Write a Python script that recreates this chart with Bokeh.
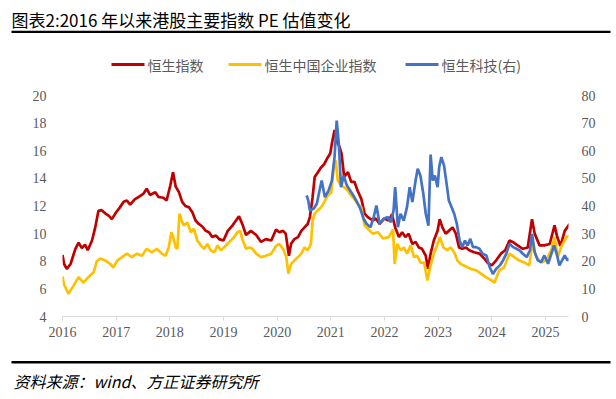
from bokeh.plotting import figure
from bokeh.models import Range1d, LinearAxis, FixedTicker, Label
from bokeh.layouts import column
from bokeh.embed import file_html
from bokeh.resources import INLINE

# ---------------- data ----------------
hsi_years = [2016.00, 2016.03, 2016.08, 2016.15, 2016.24, 2016.30, 2016.36, 2016.42, 2016.47, 2016.55,
             2016.61, 2016.67, 2016.73, 2016.80, 2016.86, 2016.92, 2017.00, 2017.07, 2017.14, 2017.20,
             2017.26, 2017.35, 2017.42, 2017.51, 2017.57, 2017.63, 2017.73, 2017.79, 2017.88, 2017.94,
             2018.01, 2018.06, 2018.11, 2018.17, 2018.23, 2018.29, 2018.36, 2018.42, 2018.48, 2018.54,
             2018.61, 2018.67, 2018.73, 2018.79, 2018.86, 2018.92, 2019.00, 2019.08, 2019.17, 2019.26,
             2019.29, 2019.36, 2019.42, 2019.51, 2019.61, 2019.70, 2019.79, 2019.89, 2019.98, 2020.04,
             2020.11, 2020.16, 2020.22, 2020.26, 2020.32, 2020.39, 2020.45, 2020.51, 2020.57, 2020.61,
             2020.66, 2020.70, 2020.76, 2020.82, 2020.88, 2020.94, 2020.99, 2021.02, 2021.07, 2021.11,
             2021.16, 2021.20, 2021.25, 2021.32, 2021.38, 2021.44, 2021.50, 2021.57, 2021.63, 2021.69,
             2021.78, 2021.84, 2021.91, 2022.00, 2022.08, 2022.14, 2022.20, 2022.27, 2022.33, 2022.39,
             2022.45, 2022.52, 2022.58, 2022.64, 2022.70, 2022.77, 2022.81, 2022.86, 2022.92, 2022.99,
             2023.03, 2023.08, 2023.14, 2023.20, 2023.27, 2023.33, 2023.39, 2023.45, 2023.52, 2023.58,
             2023.67, 2023.77, 2023.86, 2023.92, 2024.00, 2024.08, 2024.17, 2024.25, 2024.33, 2024.39,
             2024.48, 2024.58, 2024.67, 2024.75, 2024.80, 2024.89, 2024.98, 2025.08, 2025.17, 2025.22,
             2025.28, 2025.36, 2025.45]
hsi_pe = [8.45, 7.8, 7.45, 7.8, 8.9, 9.35, 8.95, 9.2, 8.8, 9.5,
          10.45, 11.65, 11.7, 11.45, 11.3, 11.05, 11.55, 11.9, 12.3, 12.4,
          12.1, 12.5, 12.65, 12.9, 13.25, 12.8, 13.0, 12.65, 12.6, 12.4,
          13.5, 14.45, 13.4, 13.0, 12.3, 12.0, 11.9, 11.55, 10.95, 10.7,
          10.5, 10.2, 10.1, 9.75, 9.86, 9.6, 9.5, 10.2, 10.6, 11.1,
          11.25, 10.6, 9.9, 10.2, 9.9, 9.4, 9.6, 9.5, 10.3, 10.1,
          10.2, 10.0, 8.4, 9.26, 9.6, 9.75, 10.2, 10.45, 10.7, 11.2,
          12.6, 14.1, 14.45, 14.8, 15.05, 15.5, 15.8, 16.5, 17.5, 16.75,
          16.3, 15.8, 14.1, 14.45, 13.75, 13.75, 13.1, 12.5, 11.45, 11.2,
          10.95, 11.1, 10.7, 11.1, 10.95, 11.4, 10.45, 9.75, 10.1, 9.75,
          10.0, 9.25, 9.4, 9.0, 8.9, 8.4, 7.45, 8.55, 9.5, 10.2,
          11.05, 10.45, 10.0, 10.2, 10.45, 10.0, 9.0, 8.9, 9.0, 8.8,
          8.65, 8.55, 8.2, 7.9, 7.7, 8.05, 8.55, 8.8, 9.5, 9.4,
          9.15, 8.9, 9.0, 11.05, 10.0, 9.15, 9.15, 9.25, 10.6, 9.75,
          9.1, 10.2, 10.7]

hscei_years = [2016.00, 2016.03, 2016.11, 2016.20, 2016.30, 2016.39, 2016.48, 2016.58, 2016.64, 2016.70,
               2016.80, 2016.89, 2016.95, 2017.02, 2017.11, 2017.20, 2017.29, 2017.39, 2017.48, 2017.57,
               2017.66, 2017.76, 2017.85, 2017.92, 2017.98, 2018.03, 2018.06, 2018.11, 2018.14, 2018.18,
               2018.22, 2018.26, 2018.33, 2018.39, 2018.45, 2018.51, 2018.58, 2018.64, 2018.70, 2018.76,
               2018.83, 2018.89, 2018.95, 2019.01, 2019.11, 2019.20, 2019.26, 2019.31, 2019.36, 2019.42,
               2019.48, 2019.54, 2019.61, 2019.70, 2019.79, 2019.89, 2019.98, 2020.04, 2020.11, 2020.17,
               2020.21, 2020.26, 2020.32, 2020.39, 2020.45, 2020.51, 2020.57, 2020.63, 2020.66, 2020.70,
               2020.76, 2020.82, 2020.88, 2020.94, 2021.01, 2021.06, 2021.09, 2021.13, 2021.19, 2021.25,
               2021.32, 2021.38, 2021.44, 2021.50, 2021.57, 2021.63, 2021.69, 2021.78, 2021.88, 2021.97,
               2022.08, 2022.16, 2022.19, 2022.24, 2022.30, 2022.36, 2022.42, 2022.49, 2022.55, 2022.61,
               2022.67, 2022.74, 2022.80, 2022.85, 2022.92, 2022.99, 2023.03, 2023.10, 2023.17, 2023.23,
               2023.30, 2023.36, 2023.42, 2023.48, 2023.55, 2023.61, 2023.70, 2023.80, 2023.89, 2024.00,
               2024.05, 2024.14, 2024.23, 2024.33, 2024.42, 2024.51, 2024.61, 2024.70, 2024.75, 2024.83,
               2024.92, 2025.01, 2025.11, 2025.17, 2025.23, 2025.29, 2025.39, 2025.45]
hscei_pe = [6.9, 6.3, 5.65, 6.2, 6.85, 6.45, 6.85, 7.2, 8.0, 8.2,
            8.05, 7.8, 7.55, 8.05, 8.3, 8.55, 8.3, 8.55, 8.4, 8.9,
            8.65, 8.9, 8.55, 8.4, 9.0, 10.1, 9.8, 9.0, 8.9, 11.45,
            10.95, 10.6, 10.8, 10.1, 10.35, 9.5, 9.15, 8.9, 9.25, 8.8,
            8.65, 9.15, 8.8, 9.0, 9.4, 9.75, 10.1, 10.2, 9.5, 8.9,
            9.0, 8.9, 8.55, 8.3, 8.4, 8.55, 9.1, 9.25, 8.9, 8.3,
            7.1, 7.8, 8.05, 8.3, 8.55, 9.0, 8.8, 9.25, 10.95, 11.45,
            11.7, 11.9, 12.3, 12.75, 13.0, 15.05, 15.3, 13.85, 13.5, 13.35,
            13.1, 12.75, 12.5, 12.15, 11.9, 10.6, 10.35, 10.0, 10.1, 9.65,
            9.75, 10.3, 7.8, 9.25, 8.8, 9.0, 8.55, 9.15, 8.3, 8.4,
            7.9, 7.9, 6.6, 7.55, 8.55, 9.25, 9.75, 9.0, 8.8, 9.0,
            8.65, 8.05, 7.8, 7.7, 7.55, 7.45, 7.35, 7.1, 6.85, 6.6,
            6.45, 7.35, 7.55, 8.55, 8.3, 8.05, 7.9, 7.7, 9.25, 8.3,
            7.9, 8.05, 8.8, 9.75, 8.3, 9.0, 9.75, 9.85]

hstech_years = [2020.55, 2020.58, 2020.61, 2020.68, 2020.74, 2020.79, 2020.83, 2020.89, 2020.96, 2021.02,
                2021.07, 2021.11, 2021.15, 2021.19, 2021.24, 2021.30, 2021.36, 2021.42, 2021.49, 2021.55,
                2021.61, 2021.67, 2021.74, 2021.80, 2021.85, 2021.91, 2021.99, 2022.06, 2022.12, 2022.17,
                2022.20, 2022.25, 2022.30, 2022.36, 2022.42, 2022.47, 2022.52, 2022.58, 2022.62, 2022.67,
                2022.72, 2022.77, 2022.82, 2022.86, 2022.90, 2022.94, 2022.99, 2023.02, 2023.06, 2023.11,
                2023.15, 2023.20, 2023.25, 2023.30, 2023.35, 2023.40, 2023.45, 2023.50, 2023.55, 2023.60,
                2023.65, 2023.71, 2023.77, 2023.83, 2023.90, 2023.96, 2024.02, 2024.08, 2024.15, 2024.21,
                2024.27, 2024.33, 2024.40, 2024.46, 2024.52, 2024.58, 2024.65, 2024.71, 2024.75, 2024.80,
                2024.86, 2024.92, 2024.98, 2025.05, 2025.11, 2025.16, 2025.21, 2025.26, 2025.31, 2025.36,
                2025.41, 2025.45]
hstech_pe = [43.8, 42.0, 38.4, 39.0, 40.8, 45.6, 49.2, 43.2, 45.6, 49.2,
             57.7, 70.9, 62.5, 46.8, 51.0, 47.4, 45.6, 43.8, 41.4, 39.0,
             35.4, 33.5, 32.3, 36.0, 40.2, 33.5, 35.4, 36.0, 34.1, 38.4,
             46.8, 32.3, 37.2, 34.7, 39.6, 46.8, 41.4, 49.2, 53.5, 51.0,
             45.0, 37.2, 32.9, 58.6, 49.2, 51.0, 46.8, 54.1, 57.7, 54.7,
             49.2, 42.0, 39.6, 37.2, 33.5, 27.5, 25.1, 27.5, 25.7, 28.1,
             25.1, 25.1, 24.5, 22.7, 22.1, 17.9, 15.4, 17.2, 18.5, 20.3,
             22.7, 26.3, 25.1, 24.5, 23.9, 22.7, 21.5, 23.9, 29.9, 23.3,
             20.3, 19.7, 22.1, 19.1, 22.7, 25.7, 22.7, 18.5, 20.3, 22.1,
             20.3, 20.9]

year_ticks = [2016, 2017, 2018, 2019, 2020, 2021, 2022, 2023, 2024, 2025]
left_ticks = [4, 6, 8, 10, 12, 14, 16, 18, 20]
right_ticks = [0, 10, 20, 30, 40, 50, 60, 70, 80]

series_names = ["恒生指数", "恒生中国企业指数", "恒生科技(右)"]
series_colors = ["#C00000", "#FFC000", "#4472C4"]
title_text = "图表2:2016 年以来港股主要指数 PE 估值变化"
source_text = "资料来源：wind、方正证券研究所"

CJK = "Noto Sans CJK SC"
NUM = "Liberation Serif"
GRAY = "#595959"

W = 612
TOP_H, MAIN_H, BOT_H = 80, 276, 38
FL, FR = 62, 568                       # frame x edges (page px)
FT, FB = 95 - TOP_H, 316 - TOP_H       # frame y edges inside main figure


def deco_fig(h):
    f = figure(width=W, height=h, x_range=Range1d(0, W), y_range=Range1d(h, 0),
               x_axis_type=None, y_axis_type=None, toolbar_location=None,
               output_backend="svg", min_border=0, outline_line_color=None,
               border_fill_color="white", background_fill_color="white")
    f.frame_align = False
    return f


# ---------------- top: title + legend ----------------
top = deco_fig(TOP_H)
top.add_layout(Label(x=11, y=19, text=title_text, text_baseline="middle",
                     text_font=CJK, text_font_size="17px", text_color="#000000"))
top.segment(x0=11, y0=31.4, x1=610, y1=31.4, line_color="#000000", line_width=2.2)

leg_x = [111, 228, 405]
for i in range(3):
    top.segment(x0=leg_x[i], y0=64, x1=leg_x[i] + 33, y1=64,
                line_color=series_colors[i], line_width=3)
    top.add_layout(Label(x=leg_x[i] + 36, y=64, text=series_names[i], text_baseline="middle",
                         text_font=CJK, text_font_size="14px", text_color=GRAY))

# ---------------- main chart ----------------
p = figure(width=W, height=MAIN_H, x_range=Range1d(2016.0, 2025.43), y_range=Range1d(4, 20),
           toolbar_location=None, output_backend="svg",
           min_border_left=FL, min_border_right=W - FR, min_border_top=FT,
           min_border_bottom=MAIN_H - FB,
           outline_line_color=None, background_fill_color="white", border_fill_color="white")
p.frame_align = False
p.xgrid.visible = False
p.ygrid.visible = False

la = p.yaxis[0]
la.ticker = FixedTicker(ticks=left_ticks)
la.axis_line_color = None
la.major_tick_line_color = None
la.minor_tick_line_color = None
la.major_tick_in = 0
la.major_tick_out = 0
la.major_label_standoff = 16
la.major_label_text_font = NUM
la.major_label_text_font_size = "14px"
la.major_label_text_color = GRAY

p.extra_y_ranges = {"right": Range1d(0, 80)}
ra = LinearAxis(y_range_name="right")
ra.ticker = FixedTicker(ticks=right_ticks)
ra.axis_line_color = None
ra.major_tick_line_color = None
ra.minor_tick_line_color = None
ra.major_tick_in = 0
ra.major_tick_out = 0
ra.major_label_standoff = 13
ra.major_label_text_font = NUM
ra.major_label_text_font_size = "14px"
ra.major_label_text_color = GRAY
p.add_layout(ra, "right")

xa = p.xaxis[0]
xa.ticker = FixedTicker(ticks=year_ticks)
xa.axis_line_color = "#D9D9D9"
xa.axis_line_width = 1
xa.major_tick_line_color = "#D9D9D9"
xa.minor_tick_line_color = None
xa.major_tick_in = 0
xa.major_tick_out = 4
xa.major_label_standoff = 6
xa.major_label_text_font = NUM
xa.major_label_text_font_size = "14px"
xa.major_label_text_color = GRAY

p.line(hsi_years, hsi_pe, line_color=series_colors[0], line_width=2.7)
p.line(hscei_years, hscei_pe, line_color=series_colors[1], line_width=2.7)
p.line(hstech_years, hstech_pe, line_color=series_colors[2], line_width=2.7, y_range_name="right")

# ---------------- footer ----------------
bot = deco_fig(BOT_H)
bot.segment(x0=11, y0=5.8, x1=610, y1=5.8, line_color="#000000", line_width=2.5)
bot.add_layout(Label(x=13, y=24, text=source_text, text_baseline="middle",
                     text_font=CJK, text_font_size="16px", text_font_style="italic",
                     text_color="#000000"))

layout = column(top, p, bot, spacing=0)
open("out.html", "w").write(file_html(layout, INLINE))
